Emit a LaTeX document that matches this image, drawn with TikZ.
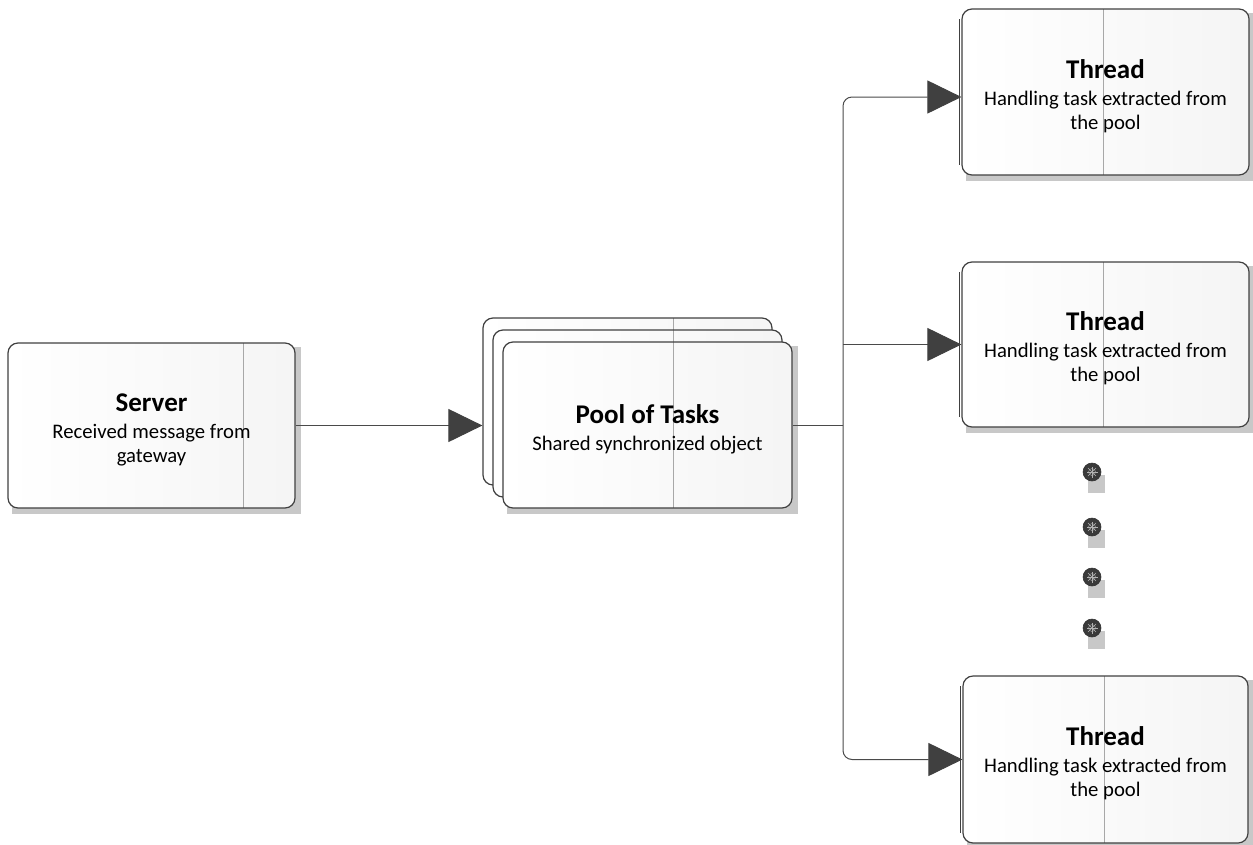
\documentclass[tikz,border=0pt]{standalone}
\usepackage{fontspec}
\setmainfont{Carlito}
\usetikzlibrary{arrows.meta,calc,backgrounds}
\definecolor{edgegray}{HTML}{404040}
\definecolor{linegray}{HTML}{4A4A4A}
\definecolor{shadowgray}{HTML}{C8C8C8}
\definecolor{dividergray}{HTML}{A8A8A8}
\definecolor{dotgray}{HTML}{3A3A3A}
\newcommand\cardtitle[1]{{\bfseries\fontsize{27}{30}\selectfont #1}\\[3pt]}

\begin{document}
\begin{tikzpicture}[x=1pt,y=-1pt,
  card/.style={draw=edgegray, line width=1.2pt, rounded corners=10pt,
    left color=white, right color=black!4, inner sep=0pt},
  cardtext/.style={align=center, inner sep=0pt, yshift=-4pt,
    font=\fontsize{20.7}{24}\selectfont, text=black},
  divider/.style={path picture={\draw[dividergray, line width=0.8pt]
    ([xshift=#1]path picture bounding box.south west) --
    ([xshift=#1]path picture bounding box.north west);}},
  conn/.style={draw=linegray, line width=1pt},
  tip/.style={conn, -{Triangle[length=34pt,width=33pt,color=edgegray]}},
  dot/.style={circle, minimum size=18pt, inner sep=0pt, fill=dotgray, draw=black!80, line width=0.6pt,
    path picture={
      \foreach \a in {0,45,...,315}
        \draw[gray!60, line width=0.4pt] (path picture bounding box.center) -- ++(\a:5.5pt);
      \draw[gray!60, line width=0.4pt] (path picture bounding box.center) circle (3.5pt);}},
  shadowbox/.style={fill=shadowgray},
  sideedge/.style={draw=edgegray, line width=0.8pt}
]
\useasboundingbox (0,0) rectangle (1253,844);

% sender
\node[card, divider=235pt, minimum width=287pt, minimum height=165pt,
  label={[cardtext, name=server-text]center:\cardtitle{Server}Received message from\\gateway}]
  (server) at (151.5,425.5) {};

% stacked pool of tasks
\node[card, divider=190pt, minimum width=289pt, minimum height=167pt] (pool3) at (627.5,401.5) {};
\node[card, divider=180pt, minimum width=289pt, minimum height=167pt] (pool2) at (637.5,413.5) {};
\node[card, divider=170pt, minimum width=289pt, minimum height=166pt,
  label={[cardtext, name=pool-text]center:\cardtitle{Pool of Tasks}Shared synchronized object}]
  (pool1) at (647.5,425) {};

% worker threads
\node[card, divider=141pt, minimum width=287pt, minimum height=166pt,
  label={[cardtext, name=thread1-text]center:\cardtitle{Thread}Handling task extracted from\\the pool}]
  (thread1) at (1105.5,92) {};
\node[card, divider=141pt, minimum width=287pt, minimum height=165pt,
  label={[cardtext, name=thread2-text]center:\cardtitle{Thread}Handling task extracted from\\the pool}]
  (thread2) at (1105.5,344.5) {};
\node[card, divider=141pt, minimum width=285pt, minimum height=167pt,
  label={[cardtext, name=thread3-text]center:\cardtitle{Thread}Handling task extracted from\\the pool}]
  (thread3) at (1105.5,759.5) {};

\foreach \t in {thread1,thread2,thread3}
  \draw[sideedge] ($(\t.north west)+(-2.5,11)$) -- ($(\t.south west)+(-2.5,-11)$);

% ellipsis between threads
\foreach \yy [count=\i] in {472,527,577,628} {
  \fill[shadowbox] (1088,\yy+3) rectangle (1105,\yy+21);
  \node[dot] (d\i) at (1092,\yy) {};
}

% connectors
\draw[tip] (server.east) -- (server.east -| pool3.west);
\coordinate (j) at (843,425);
\draw[conn] (pool1.east) -- (j);
\draw[tip, rounded corners=9pt] (j) |- ($(thread1.west)+(0,5)$);
\draw[tip] (j |- thread2.west) -- (thread2.west);
\draw[tip, rounded corners=9pt] (j) |- (thread3.west);

% drop shadows
\begin{scope}[on background layer]
  \foreach \b in {server,pool1,thread1,thread2,thread3}
    \fill[shadowbox] ($(\b.south west)+(5,5)$) rectangle ($(\b.north east)+(5,5)$);
\end{scope}
\end{tikzpicture}
\end{document}
